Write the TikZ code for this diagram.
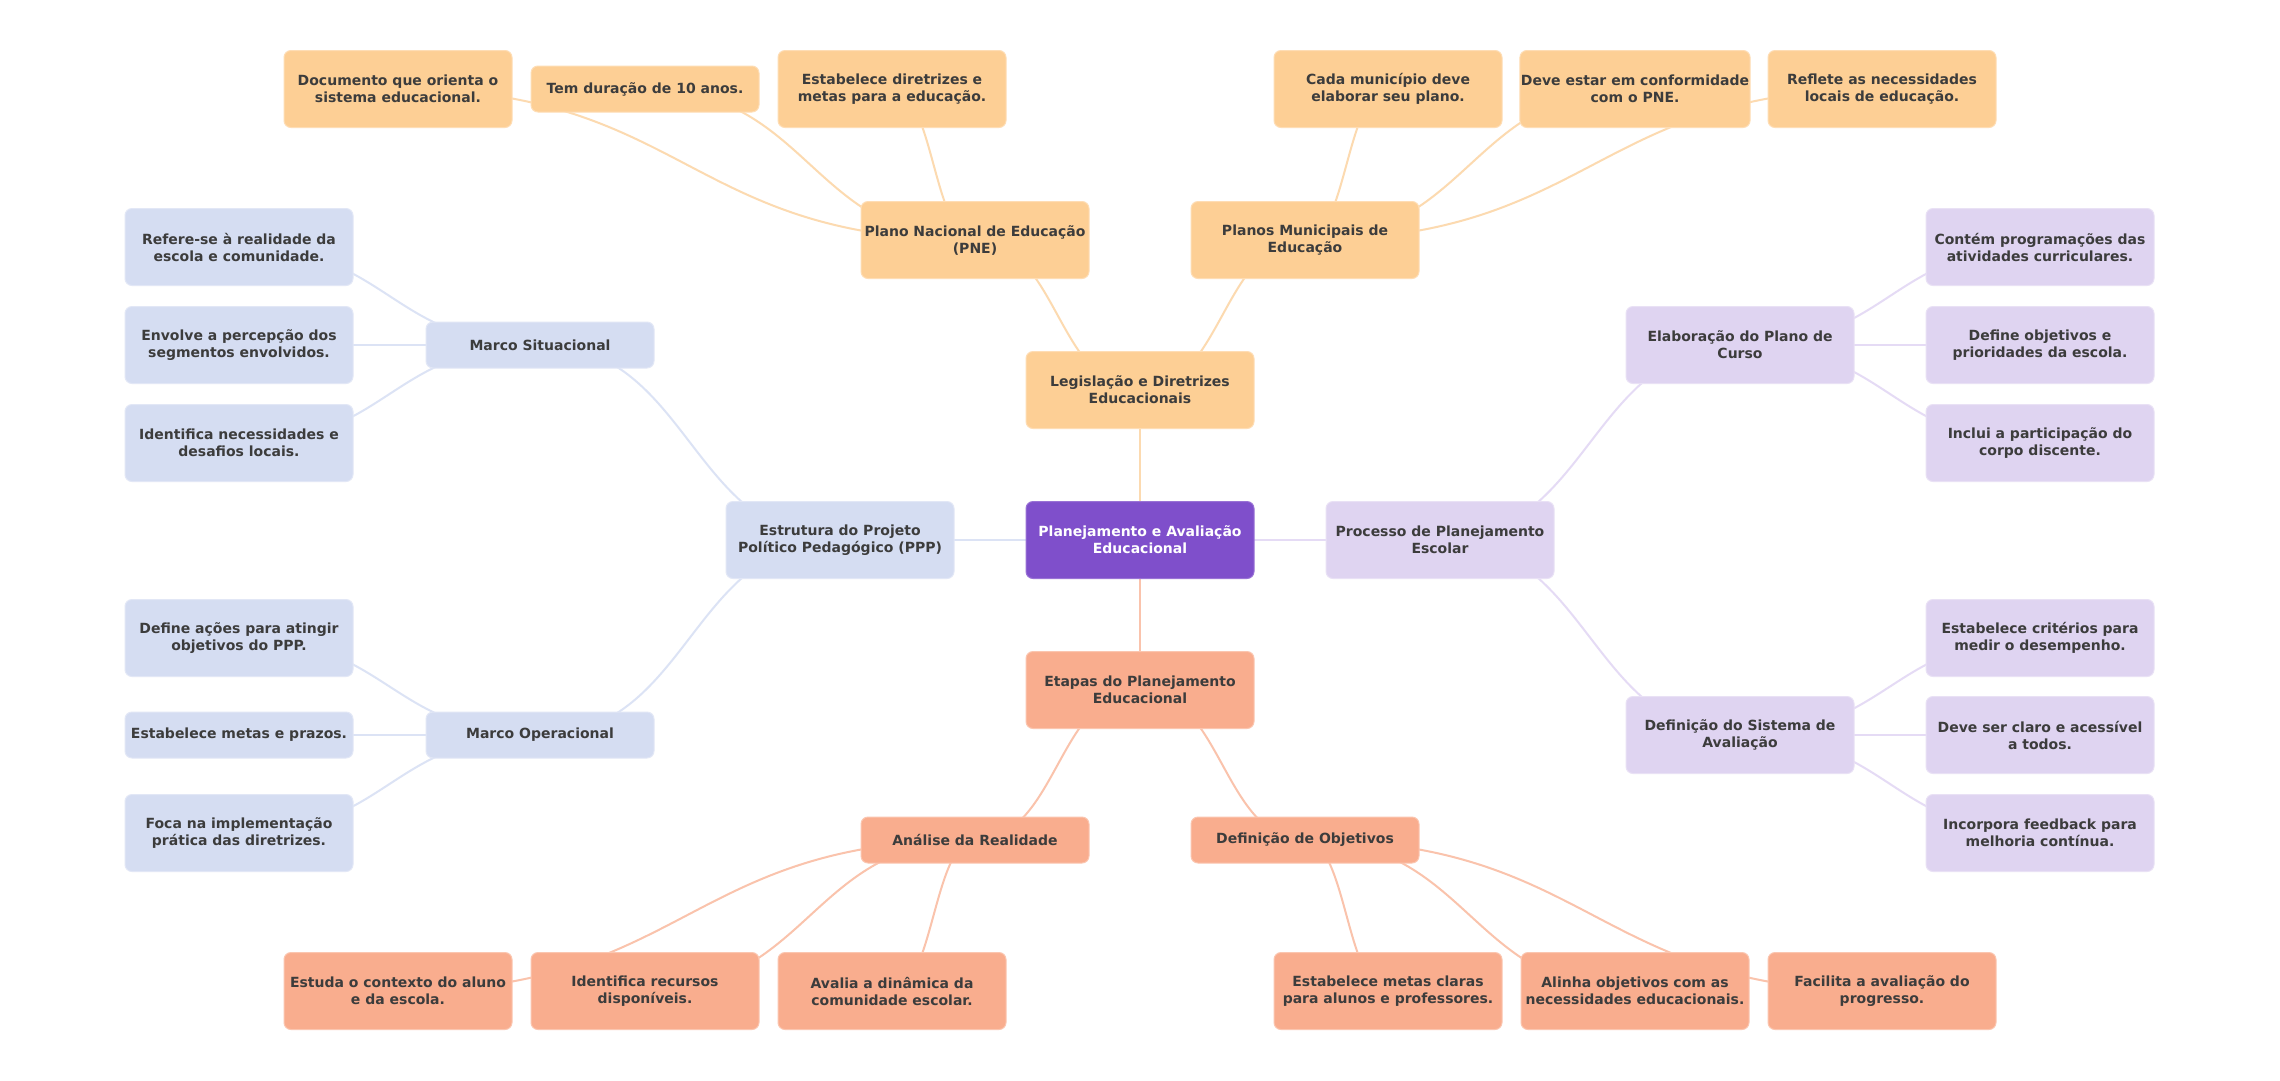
\documentclass[tikz,border=0pt]{standalone}
\usepackage{fontspec}
\setmainfont{DejaVu Sans}
\usetikzlibrary{calc,backgrounds}
\definecolor{txt}{HTML}{3C3C3C}
\definecolor{cpur}{HTML}{7F4FCB}
\definecolor{forg}{HTML}{FDCF95}
\definecolor{lorg}{HTML}{FCDAB0}
\definecolor{fblu}{HTML}{D5DDF2}
\definecolor{lblu}{HTML}{DCE3F5}
\definecolor{flav}{HTML}{DFD4F1}
\definecolor{llav}{HTML}{E5DBF5}
\definecolor{fsal}{HTML}{F9AD8E}
\definecolor{lsal}{HTML}{FAC3AC}
\newcommand\lnk[3]{%
  \path (#2.center) coordinate (lA) (#3.center) coordinate (lB);
  \path ($(lA)!.5!(lB)$) coordinate (lM);
  \draw[edge,#1] (lA) .. controls (lM |- lA) and (lM |- lB) .. (lB);}
\tikzset{
  box/.style={rounded corners=7pt, minimum width=228pt, minimum height=77pt,
    align=center, font=\bfseries\fontsize{14}{17}\selectfont, text=txt,
    inner xsep=1pt, inner ysep=3pt, line width=1pt},
  shortbox/.style={minimum height=46pt},
  org/.style={box, fill=forg, draw=forg!70!white},
  blu/.style={box, fill=fblu, draw=fblu!70!white},
  lav/.style={box, fill=flav, draw=flav!70!white},
  sal/.style={box, fill=fsal, draw=fsal!70!white},
  root/.style={box, fill=cpur, draw=cpur!80!white, text=white},
  edge/.style={line width=2pt}
}
\begin{document}
\begin{tikzpicture}[x=1pt,y=-1pt]
\useasboundingbox (0,0) rectangle (2280,1080);
% center
\node[root] (c) at (1140,540) {Planejamento e Avaliação\\Educacional};
% main branches
\node[org] (leg) at (1140,390) {Legislação e Diretrizes\\Educacionais};
\node[sal] (eta) at (1140,690) {Etapas do Planejamento\\Educacional};
\node[blu] (ppp) at (840,540) {Estrutura do Projeto\\Político Pedagógico (PPP)};
\node[lav] (pro) at (1440,540) {Processo de Planejamento\\Escolar};
% orange
\node[org] (pne) at (975,240) {Plano Nacional de Educação\\(PNE)};
\node[org] (pme) at (1305,240) {Planos Municipais de\\Educação};
\node[org] (o1) at (398,89) {Documento que orienta o\\sistema educacional.};
\node[org,shortbox] (o2) at (645,89) {Tem duração de 10 anos.};
\node[org] (o3) at (892,89) {Estabelece diretrizes e\\metas para a educação.};
\node[org] (o4) at (1388,89) {Cada município deve\\elaborar seu plano.};
\node[org] (o5) at (1635,89) {Deve estar em conformidade\\com o PNE.};
\node[org] (o6) at (1882,89) {Reflete as necessidades\\locais de educação.};
% salmon
\node[sal,shortbox] (ana) at (975,840) {Análise da Realidade};
\node[sal,shortbox] (def) at (1305,840) {Definição de Objetivos};
\node[sal] (s1) at (398,991) {Estuda o contexto do aluno\\e da escola.};
\node[sal] (s2) at (645,991) {Identifica recursos\\disponíveis.};
\node[sal] (s3) at (892,991) {Avalia a dinâmica da\\comunidade escolar.};
\node[sal] (s4) at (1388,991) {Estabelece metas claras\\para alunos e professores.};
\node[sal] (s5) at (1635,991) {Alinha objetivos com as\\necessidades educacionais.};
\node[sal] (s6) at (1882,991) {Facilita a avaliação do\\progresso.};
% blue
\node[blu,shortbox] (ms) at (540,345) {Marco Situacional};
\node[blu,shortbox] (mo) at (540,735) {Marco Operacional};
\node[blu] (b1) at (239,247) {Refere-se à realidade da\\escola e comunidade.};
\node[blu] (b2) at (239,345) {Envolve a percepção dos\\segmentos envolvidos.};
\node[blu] (b3) at (239,443) {Identifica necessidades e\\desafios locais.};
\node[blu] (b4) at (239,638) {Define ações para atingir\\objetivos do PPP.};
\node[blu,shortbox] (b5) at (239,735) {Estabelece metas e prazos.};
\node[blu] (b6) at (239,833) {Foca na implementação\\prática das diretrizes.};
% lavender
\node[lav] (ela) at (1740,345) {Elaboração do Plano de\\Curso};
\node[lav] (dsa) at (1740,735) {Definição do Sistema de\\Avaliação};
\node[lav] (l1) at (2040,247) {Contém programações das\\atividades curriculares.};
\node[lav] (l2) at (2040,345) {Define objetivos e\\prioridades da escola.};
\node[lav] (l3) at (2040,443) {Inclui a participação do\\corpo discente.};
\node[lav] (l4) at (2040,638) {Estabelece critérios para\\medir o desempenho.};
\node[lav] (l5) at (2040,735) {Deve ser claro e acessível\\a todos.};
\node[lav] (l6) at (2040,833) {Incorpora feedback para\\melhoria contínua.};
\begin{scope}[on background layer]
\fill[white] (0,0) rectangle (2280,1080);
\lnk{lorg}{c}{leg}
\lnk{lsal}{c}{eta}
\lnk{lblu}{c}{ppp}
\lnk{llav}{c}{pro}
\lnk{lorg}{leg}{pne}
\lnk{lorg}{leg}{pme}
\lnk{lorg}{pne}{o1}
\lnk{lorg}{pne}{o2}
\lnk{lorg}{pne}{o3}
\lnk{lorg}{pme}{o4}
\lnk{lorg}{pme}{o5}
\lnk{lorg}{pme}{o6}
\lnk{lsal}{eta}{ana}
\lnk{lsal}{eta}{def}
\lnk{lsal}{ana}{s1}
\lnk{lsal}{ana}{s2}
\lnk{lsal}{ana}{s3}
\lnk{lsal}{def}{s4}
\lnk{lsal}{def}{s5}
\lnk{lsal}{def}{s6}
\lnk{lblu}{ppp}{ms}
\lnk{lblu}{ppp}{mo}
\lnk{lblu}{ms}{b1}
\lnk{lblu}{ms}{b2}
\lnk{lblu}{ms}{b3}
\lnk{lblu}{mo}{b4}
\lnk{lblu}{mo}{b5}
\lnk{lblu}{mo}{b6}
\lnk{llav}{pro}{ela}
\lnk{llav}{pro}{dsa}
\lnk{llav}{ela}{l1}
\lnk{llav}{ela}{l2}
\lnk{llav}{ela}{l3}
\lnk{llav}{dsa}{l4}
\lnk{llav}{dsa}{l5}
\lnk{llav}{dsa}{l6}
\end{scope}
\end{tikzpicture}
\end{document}
